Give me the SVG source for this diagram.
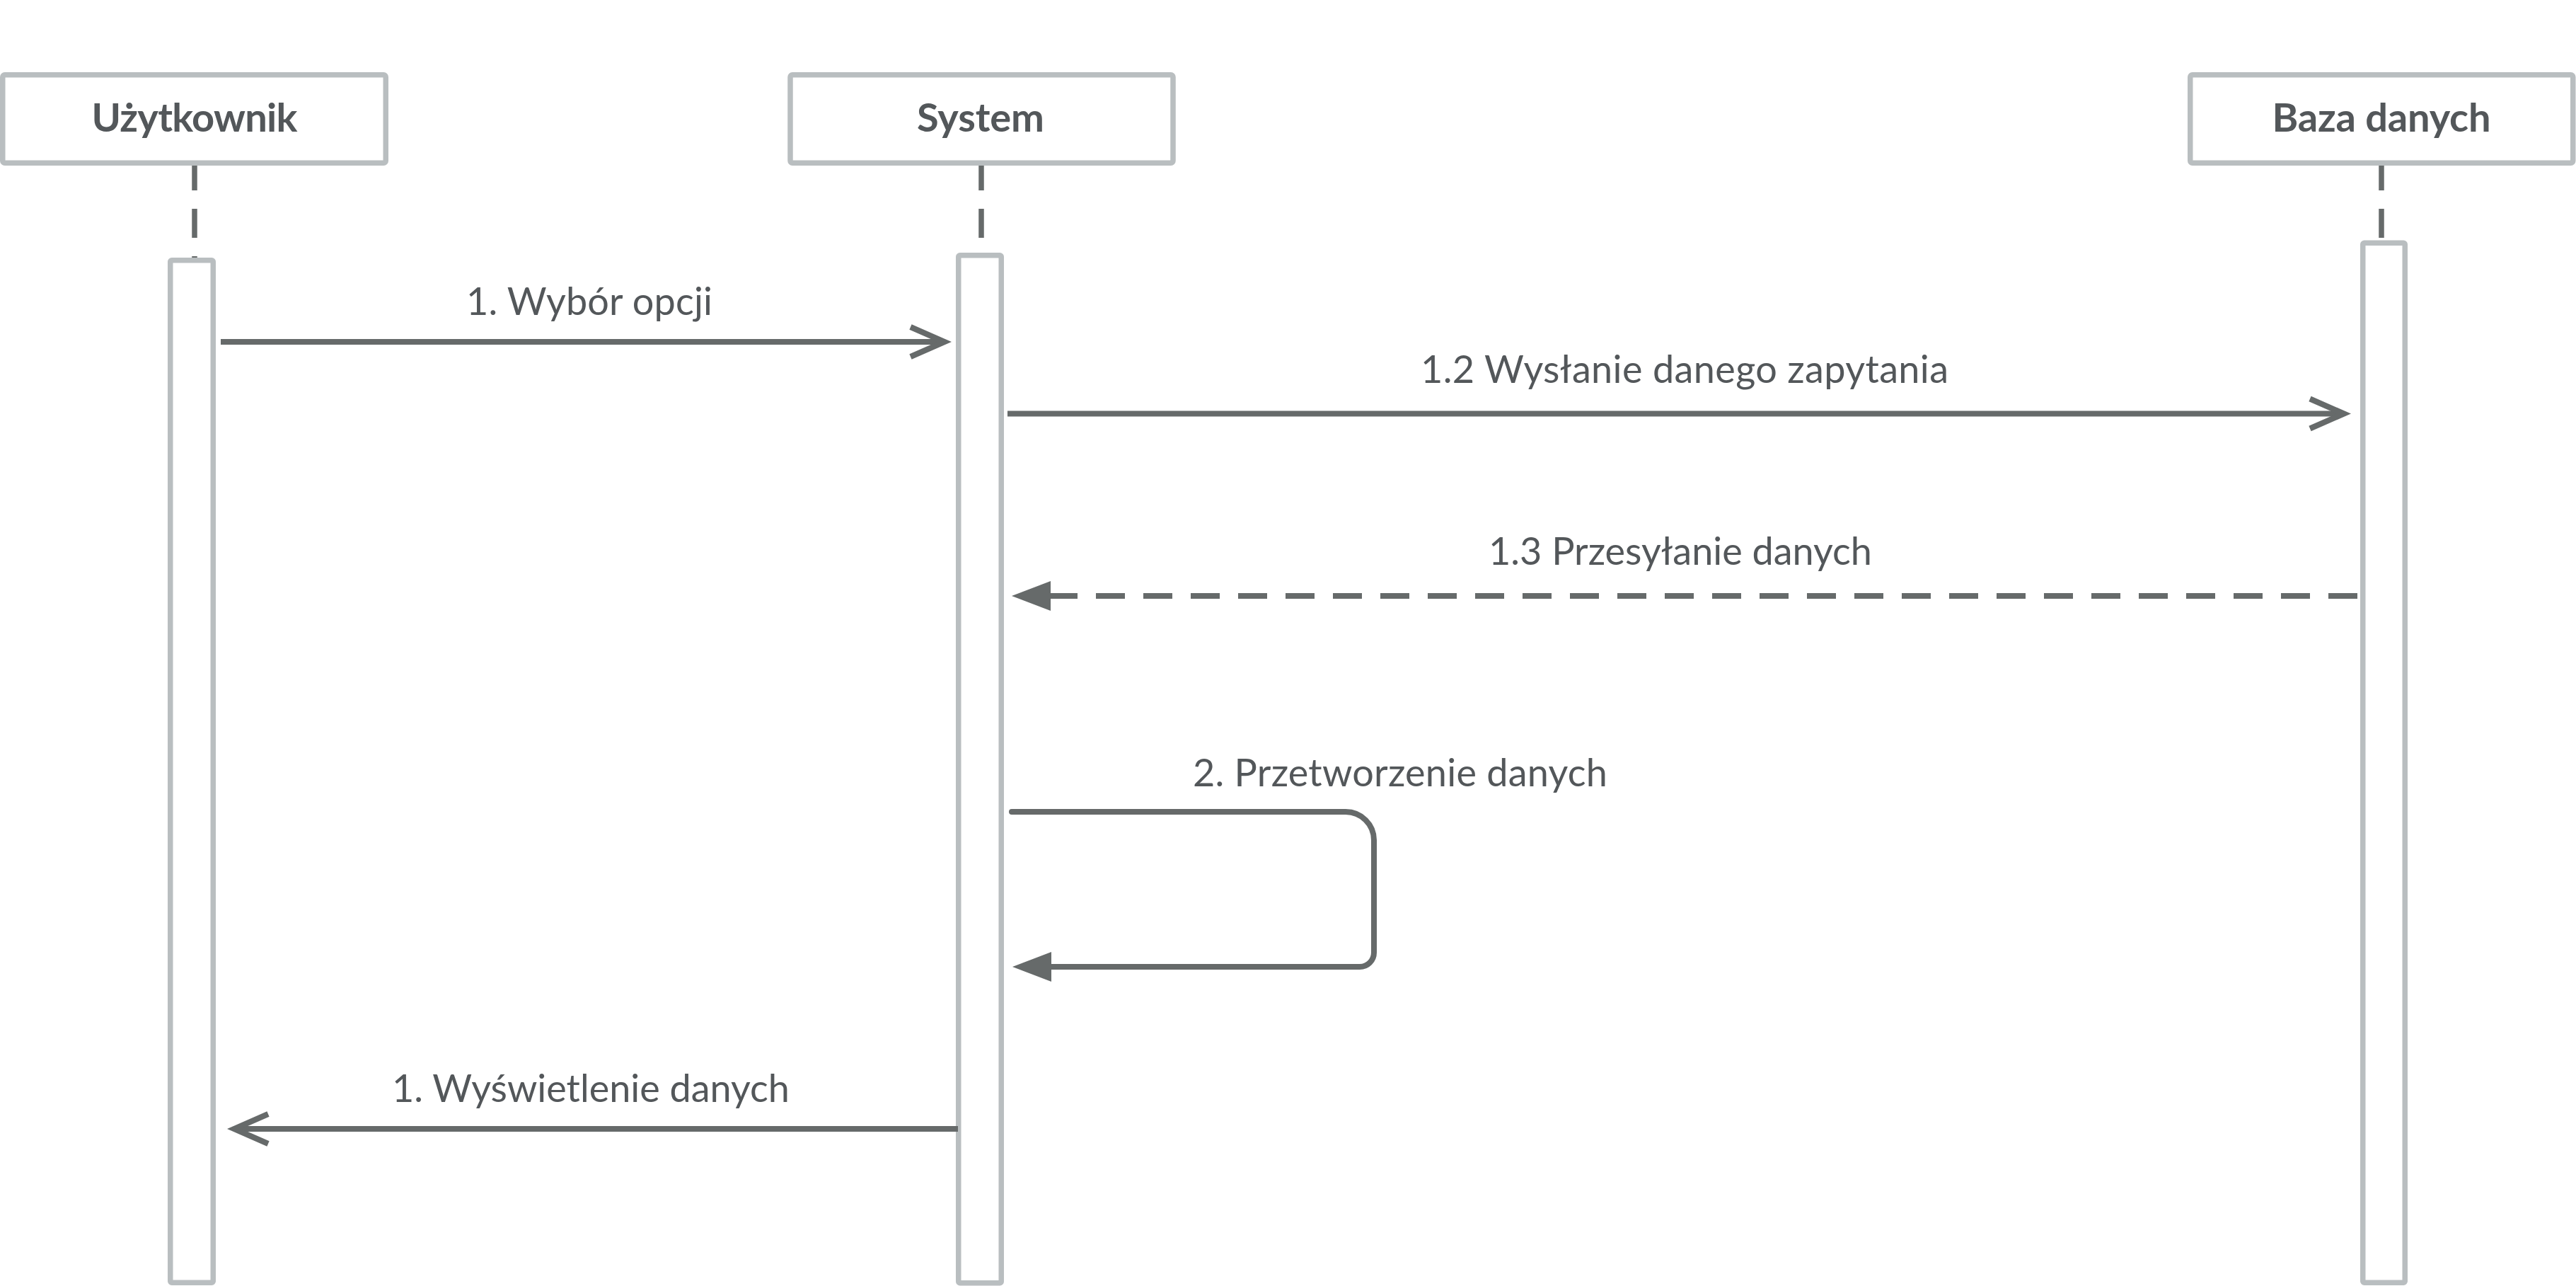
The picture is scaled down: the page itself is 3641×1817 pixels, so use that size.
<svg xmlns="http://www.w3.org/2000/svg" width="3641" height="1817" viewBox="0 0 3641 1817">
  <style>
    .head { fill: #ffffff; stroke: #b9bec0; stroke-width: 7.5; }
    .act { fill: #ffffff; stroke: #b9bec0; stroke-width: 7.5; }
    .life { stroke: #666a6a; stroke-width: 7.5; stroke-dasharray: 41 26; fill: none; }
    .msg { stroke: #666a6a; stroke-width: 8; fill: none; }
    .dash { stroke-dasharray: 41 26; }
    .htxt { font-family: Lato, "Liberation Sans", sans-serif; font-weight: 700; font-size: 56px; fill: #53575a; text-anchor: middle; }
    .ltxt { font-family: Lato, "Liberation Sans", sans-serif; font-weight: 400; font-size: 54px; fill: #53575a; text-anchor: middle; }
  </style>
  <defs>
    <marker id="open" markerUnits="userSpaceOnUse" markerWidth="80" markerHeight="60" refX="0" refY="0" orient="auto" overflow="visible">
      <path d="M -48 -21 L 0 0 L -48 21" fill="none" stroke="#666a6a" stroke-width="8" stroke-linejoin="miter"/>
    </marker>
    <marker id="filled" markerUnits="userSpaceOnUse" markerWidth="80" markerHeight="60" refX="0" refY="0" orient="auto" overflow="visible">
      <path d="M 20 0 L -35 -21 L -35 21 Z" fill="#666a6a" stroke="none"/>
    </marker>
  </defs>

  <rect width="3641" height="1817" fill="#ffffff"/>

  <g id="lifelines">
    <line class="life" x1="275" y1="228" x2="275" y2="366"/>
    <line class="life" x1="1387" y1="228" x2="1387" y2="359"/>
    <line class="life" x1="3366" y1="228" x2="3366" y2="341"/>
  </g>

  <g id="node-uzytkownik">
    <rect class="head" x="3.75" y="105.75" width="541.5" height="124.5" rx="3"/>
    <text class="htxt" x="275" y="186" textLength="291">Użytkownik</text>
    <rect class="act" x="240.75" y="367.75" width="60.5" height="1444.5" rx="2"/>
  </g>

  <g id="node-system">
    <rect class="head" x="1117" y="105.75" width="541" height="124.5" rx="3"/>
    <text class="htxt" x="1386" y="186" textLength="180">System</text>
    <rect class="act" x="1354.75" y="360.75" width="60.5" height="1452" rx="2"/>
  </g>

  <g id="node-baza">
    <rect class="head" x="3095.75" y="105.75" width="541" height="124.5" rx="3"/>
    <text class="htxt" x="3366" y="186" textLength="309">Baza danych</text>
    <rect class="act" x="3339.75" y="343.25" width="59.5" height="1469" rx="2"/>
  </g>

  <g id="connectors">
    <path class="msg" d="M 312 483 H 1335" marker-end="url(#open)"/>
    <path class="msg" d="M 1424 584.5 H 3313" marker-end="url(#open)"/>
    <path class="msg dash" d="M 3332 842 H 1450" marker-end="url(#filled)"/>
    <path class="msg" stroke-linecap="round" d="M 1430 1147 H 1902 A 40 40 0 0 1 1942 1187 V 1346 A 20 20 0 0 1 1922 1366 H 1451" marker-end="url(#filled)"/>
    <path class="msg" d="M 1354 1595 H 331" marker-end="url(#open)"/>
  </g>

  <g id="labels">
    <text class="ltxt" x="833" y="445" textLength="348">1. Wybór opcji</text>
    <text class="ltxt" x="2381" y="541" textLength="746">1.2 Wysłanie danego zapytania</text>
    <text class="ltxt" x="2375" y="798" textLength="542">1.3 Przesyłanie danych</text>
    <text class="ltxt" x="1979" y="1111" textLength="586">2. Przetworzenie danych</text>
    <text class="ltxt" x="835" y="1557" textLength="562">1. Wyświetlenie danych</text>
  </g>
</svg>
